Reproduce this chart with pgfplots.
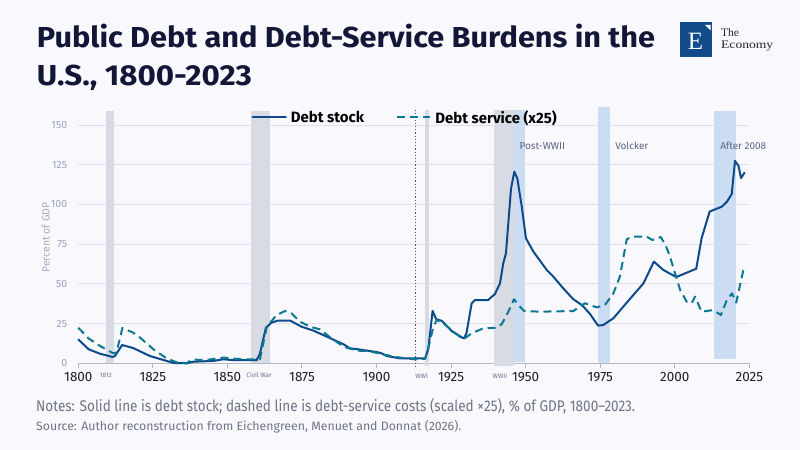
\documentclass[border=0pt]{standalone}
\usepackage{pgfplots}
\pgfplotsset{compat=1.18}
\usepackage{pgfplotstable}
\usepackage{graphicx}
\usepackage{fontspec}
\setmainfont{Fira Sans}
\newfontfamily\logofont{Liberation Serif}

\definecolor{bg}{HTML}{F8F8FD}
\definecolor{titlec}{HTML}{121737}
\definecolor{stockc}{HTML}{0D4A8A}
\definecolor{servc}{HTML}{0B7893}
\definecolor{grayband}{HTML}{D9DBE4}
\definecolor{blueband}{HTML}{CCDDF3}
\definecolor{gridc}{HTML}{DEE0EA}
\definecolor{axisc}{HTML}{B4B8C6}
\definecolor{ytickc}{HTML}{9AA2BC}
\definecolor{ylabc}{HTML}{A5ADC4}
\definecolor{notec}{HTML}{6F7486}
\definecolor{annc}{HTML}{5B6482}
\definecolor{smallc}{HTML}{6B7390}
\definecolor{dotc}{HTML}{4B5372}
\definecolor{logoc}{HTML}{124B8A}

\pgfplotstableread{
year val
1800 15
1803.5 8.8
1807.3 6
1811.5 4
1812.3 4.6
1814.7 11.5
1818.4 9.6
1824 4.6
1828.5 2.1
1832 0.2
1836.3 0
1838.6 1
1845.3 1.5
1848.6 2.5
1852 2
1859.8 2
1860.9 6
1862.9 22.4
1864.8 25.6
1867 26.9
1871 26.9
1874.9 23
1878.8 20.6
1883.3 16.8
1888.9 12
1891.1 9.4
1893.9 8.8
1896.7 8
1900 7.1
1901.7 6.3
1903.4 4.6
1907.9 3.1
1916.3 3.1
1917.4 9.4
1918.8 33
1920 27.8
1921.9 26.7
1925.2 20.3
1928.6 16.3
1929.4 15.7
1930.2 19.3
1931.9 37.8
1933 39.8
1937.4 39.8
1939.7 43.6
1941.4 50.3
1942.5 62.9
1943.4 69.2
1945.1 110
1946.2 120.6
1947.2 116.4
1948.7 98.6
1950.1 78.7
1952.6 70.3
1957.1 58.7
1959.3 54.5
1962.6 47.2
1966 40.3
1969 36.5
1971.6 31
1974.3 23.7
1976 24.1
1979.4 28.3
1983.9 38.2
1989.5 50.3
1993 64
1996.2 58.7
2000.5 54.3
2007.2 59.5
2009 78.7
2011.7 95.5
2015.8 98.6
2017.5 101.7
2019.1 106.5
2020.2 127.4
2021.4 124.2
2022.2 116.6
2023.4 120
}\stock

\pgfplotstableread{
year val
1800 22.4
1803.4 15.7
1807.3 10.9
1811.7 6.3
1812.8 6.9
1814.8 22.2
1818.4 19.3
1820.7 16.2
1825.2 8.8
1829.6 3.1
1833 0.6
1836.3 0
1838 2.3
1843 2.1
1848.6 3.6
1852 2.9
1856.5 2.5
1860.9 2.5
1863.2 23
1866.5 30.4
1869.3 32.9
1871.5 31.5
1874.3 26.2
1877.7 23
1881 21.4
1884.4 16.4
1888.9 10.5
1893.3 8
1897.8 7.6
1902.3 5.5
1907.9 3.6
1912.9 2.5
1916.3 2.8
1917.9 13.6
1919 22.7
1920.2 27.3
1922.4 25.2
1925.8 19.9
1929.1 15.1
1931.9 18.9
1935.8 22
1940.3 22.4
1942 24.7
1944.2 32.5
1946.1 40.3
1947.6 36.7
1949.5 32.9
1954.8 32.5
1966 32.9
1969.9 37.8
1973.8 35.2
1976.6 36.7
1979.4 44
1981.6 54.5
1983.9 78
1985.6 79.7
1990.6 79.7
1992.5 77.6
1995.3 79.5
1997 74
1998.4 67.1
2001.8 46.2
2004 38.8
2005.7 37.8
2006.8 42
2009 32.5
2012.9 33.5
2015.5 30.4
2017.5 40
2019.2 44
2020.6 38.2
2023.2 60.4
}\service

\begin{document}
\begin{tikzpicture}
\fill[bg] (0bp,0bp) rectangle (800bp,450bp);

% Title
\node[anchor=base west, inner sep=0pt, text=titlec] at (36.7bp,402.3bp)
  {\resizebox{618bp}{\height}{\fontsize{29}{29}\selectfont\bfseries Public Debt and Debt-Service Burdens in the}};
\node[anchor=base west, inner sep=0pt, text=titlec] at (36.7bp,364bp)
  {\resizebox{215bp}{\height}{\fontsize{29}{29}\selectfont\bfseries U.S., 1800-2023}};

% Logo
\fill[logoc] (680bp,393bp) rectangle (712bp,428bp);
\node[text=white, inner sep=0pt] at (695.5bp,409bp) {\logofont\fontsize{25}{25}\selectfont E};
\fill[white] (705bp,425bp) -- (710.5bp,425bp) -- (710.5bp,419.5bp) -- cycle;
\node[anchor=base west, inner sep=0pt, text=black!85] at (721bp,413bp) {\logofont\fontsize{11.5}{11.5}\selectfont The};
\node[anchor=base west, inner sep=0pt, text=black!85] at (721bp,401.8bp) {\resizebox{52bp}{\height}{\logofont\fontsize{11.5}{11.5}\selectfont Economy}};

\begin{axis}[
  at={(78.3bp,86.7bp)}, anchor=south west,
  scale only axis, width=671bp, height=254.2bp,
  xmin=1800, xmax=2025, ymin=0, ymax=160,
  clip=false,
  separate axis lines,
  axis x line*=bottom, axis y line*=left,
  x axis line style={draw=axisc, line width=1.2bp, -},
  y axis line style={draw=none},
  xtick={1800,1825,...,2025},
  ytick={0,25,...,150},
  ymajorgrids,
  grid style={draw=gridc, line width=0.8bp},
  tick align=outside,
  major tick length=5bp,
  x tick style={draw=axisc, line width=1bp},
  y tick style={draw=none},
  /pgf/number format/assume math mode=true,
  /pgf/number format/1000 sep={},
  xticklabel style={font=\fontsize{13.5}{13.5}\selectfont, text=black!88, inner sep=0pt, anchor=north, yshift=-4bp},
  yticklabel style={font=\fontsize{10.5}{10.5}\selectfont, text=ytickc, inner sep=0pt, anchor=east, xshift=-6bp},
  legend style={at={(0.2584,0.9676)}, anchor=west, draw=none, fill=none,
    inner sep=0pt, outer sep=0pt,
    font=\fontsize{15}{15}\selectfont\bfseries,
    nodes={inner sep=0pt},
    /tikz/every odd column/.append style={column sep=4bp},
    /tikz/every even column/.append style={column sep=32bp}},
  legend columns=2,
  legend cell align=left,
  legend image code/.code={\draw[#1] (0bp,0bp) -- (33.3bp,0bp);},
]
% bands
\fill[grayband] (axis cs:1809.3,0) rectangle (axis cs:1812,158.8);
\fill[grayband] (axis cs:1857.9,0) rectangle (axis cs:1864.3,158.8);
\fill[grayband] (axis cs:1916.3,-1.7) rectangle (axis cs:1917.6,159.4);
\fill[grayband] (axis cs:1939.4,-1.7) rectangle (axis cs:1946.1,159.4);
\fill[blueband] (axis cs:1946.1,1) rectangle (axis cs:1949.8,159.4);
\fill[blueband] (axis cs:1974.3,0) rectangle (axis cs:1978.3,161.5);
\fill[blueband] (axis cs:2013.2,2.5) rectangle (axis cs:2020.5,158.8);
% Fed line
\draw[dotc, line width=1.2bp, dash pattern=on 1.2bp off 2bp] (axis cs:1913,-2.5) -- (axis cs:1913,159.5);

\addplot[stockc, line width=2bp, line join=round, line cap=round] table[x=year,y=val] {\stock};
\addlegendentry{Debt stock}
\addplot[servc, line width=2bp, line join=round, dash pattern=on 8bp off 5bp] table[x=year,y=val] {\service};
\addlegendentry{Debt service (x25)}

% annotations
\node[anchor=west, inner sep=0pt, text=annc, font=\fontsize{10}{10}\selectfont] at (axis cs:1947.9,137) {Post-WWII};
\node[anchor=west, inner sep=0pt, text=annc, font=\fontsize{10}{10}\selectfont] at (axis cs:1980,137) {Volcker};
\node[anchor=west, inner sep=0pt, text=annc, font=\fontsize{10}{10}\selectfont] at (axis cs:2015.2,137) {After 2008};
\end{axis}

% small labels under the axis
\node[text=smallc, inner sep=0pt, font=\fontsize{6.5}{6.5}\selectfont] at (105.8bp,74.7bp) {1812};
\node[text=smallc, inner sep=0pt, font=\fontsize{6.5}{6.5}\selectfont] at (259bp,74.7bp) {Civil War};
\node[text=smallc, inner sep=0pt, font=\fontsize{6.5}{6.5}\selectfont] at (421.7bp,74.2bp) {WWI};
\node[text=smallc, inner sep=0pt, font=\fontsize{6.5}{6.5}\selectfont] at (500bp,74.2bp) {WWII};

% y label
\node[rotate=90, text=ylabc, inner sep=0pt, font=\fontsize{10.5}{10.5}\selectfont] at (45.8bp,212.5bp) {Percent of GDP};

% notes
\node[anchor=base west, inner sep=0pt, text=notec] at (36bp,38.3bp)
  {\resizebox{599bp}{\height}{\fontsize{15.5}{15.5}\selectfont Notes: Solid line is debt stock; dashed line is debt-service costs (scaled ×25), \% of GDP, 1800–2023.}};
\node[anchor=base west, inner sep=0pt, text=notec] at (36bp,19.3bp)
  {\resizebox{425bp}{\height}{\fontsize{12.2}{12.2}\selectfont Source: Author reconstruction from Eichengreen, Menuet and Donnat (2026).}};
\end{tikzpicture}
\end{document}
